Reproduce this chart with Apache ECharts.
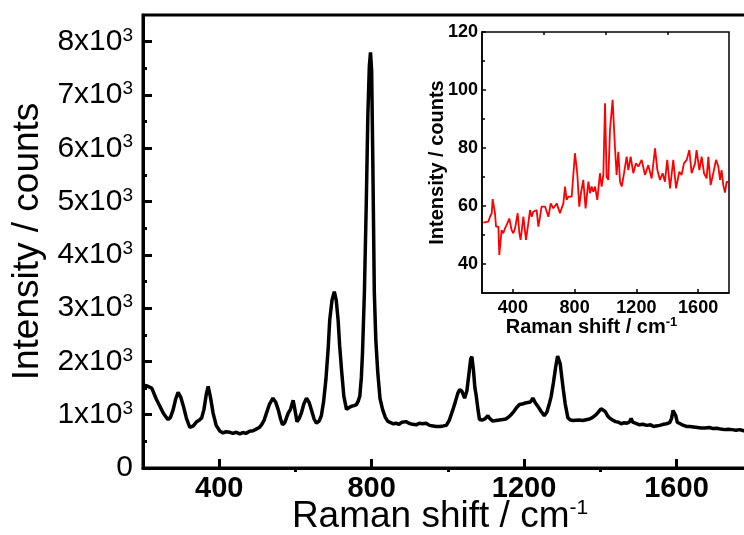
<!DOCTYPE html>
<html>
<head>
<meta charset="UTF-8">
<title>Raman spectrum</title>
<script src="https://cdn.jsdelivr.net/npm/echarts@6/dist/echarts.min.js"></script>
</head>
<body style="margin:0;background:#fff">
<div id="main" style="width:744px;height:535px;"></div>
<script>
// main spectrum (black)
var mainShift = [200,210,223,235,245,253,260,266,272,279,286,292,299,306,314,323,332,341,348,354,360,366,371,377,384,392,402,410,418,428,436,445,454,462,470,480,489,497,505,511,518,524,532,541,548,555,561,566,572,581,587,594,599,604,610,616,622,629,636,642,649,655,662,668,674,680,686,690,696,702,707,712,716,721,727,734,740,747,754,760,765,769,773,776,781,786,790,794,797,800,803,807,811,816,822,829,836,842,850,857,864,872,880,890,898,907,917,925,934,943,952,961,970,979,988,996,1004,1013,1020,1026,1031,1037,1044,1050,1055,1060,1063,1067,1071,1074,1079,1083,1090,1097,1105,1111,1118,1126,1135,1144,1152,1160,1166,1173,1180,1188,1195,1203,1210,1217,1223,1229,1236,1244,1253,1260,1266,1271,1277,1283,1288,1291,1295,1299,1303,1308,1315,1322,1329,1336,1345,1354,1363,1372,1380,1389,1396,1402,1407,1413,1419,1424,1432,1440,1448,1455,1463,1470,1477,1481,1485,1492,1503,1512,1522,1532,1540,1547,1556,1565,1574,1582,1587,1591,1594,1598,1602,1607,1615,1626,1635,1645,1655,1665,1675,1686,1696,1706,1716,1726,1736,1746,1756,1766,1776,1785];
var mainCounts = [1560,1540,1500,1290,1150,1030,960,910,950,1090,1300,1420,1330,1160,930,760,790,870,900,940,1100,1380,1530,1330,1030,800,690,660,680,670,650,670,640,665,650,690,700,730,760,810,900,1030,1200,1310,1240,1090,920,810,850,1030,1100,1270,1080,870,930,1040,1200,1310,1230,1090,920,840,880,980,1250,1660,2250,2780,3150,3310,3150,2780,2300,1840,1350,1100,1130,1160,1170,1190,1260,1350,1700,2160,3300,5000,6600,7550,7800,7450,5800,3300,2400,1800,1300,1090,950,880,850,830,840,820,860,870,840,820,810,840,830,840,800,790,780,780,790,800,900,1090,1250,1400,1470,1440,1310,1450,1750,2050,2090,1850,1500,1380,1100,910,900,920,980,920,880,890,900,910,920,960,1000,1060,1130,1190,1200,1220,1230,1240,1310,1230,1160,1070,980,1050,1200,1340,1600,1900,2100,2130,1950,1700,1470,1200,940,900,890,895,900,890,905,920,950,1000,1060,1110,1130,1060,980,940,900,870,860,830,850,840,870,930,860,840,810,820,800,810,780,790,800,820,830,850,930,1080,1100,980,860,830,810,780,780,770,760,750,750,760,740,745,730,720,725,720,710,720,700,700];

// inset spectrum (red)
var insetShift = [208,241,252,263,269,284,291,306,312,327,338,349,364,377,392,403,414,431,442,450,468,485,500,511,522,532,543,554,565,576,586,608,630,645,662,684,705,727,738,748,759,781,802,817,830,841,856,871,889,900,910,921,932,947,964,975,986,997,1007,1018,1029,1046,1061,1072,1083,1094,1105,1120,1137,1148,1163,1180,1197,1213,1234,1256,1277,1299,1321,1336,1353,1370,1385,1400,1418,1439,1457,1478,1493,1508,1526,1543,1558,1580,1590,1608,1623,1638,1655,1666,1681,1698,1716,1731,1742,1752,1763,1774,1785,1795];
var insetCounts = [54.3,54.6,56.3,57.5,62.4,57.5,52.9,52.9,43.1,51.7,50.6,52.3,54,55.7,51.7,50.6,52.3,57.5,50.6,48.3,56.3,48.3,54,58.6,56.3,58,57.5,58.6,52.9,56.3,59.8,59.8,56.3,60.9,59.2,60.9,57.5,60.9,66.7,62.1,63.2,63.2,78.2,71.3,59.8,64.4,69,59.2,68.4,64.4,66.7,64.9,66.7,62.1,71.3,66.7,70.7,95.4,70.1,69,86.2,96.6,80.5,70.7,78.7,68.4,66.7,71.3,77,72.4,77,71.3,74.7,73.6,75.9,70.7,74.1,69.5,79.9,72.4,69,71.3,68.4,75.9,66.1,75.9,66.1,71.8,70.7,74.7,75.9,79.3,71.3,74.7,79.3,72.4,77,71.3,69.5,77,67.2,71.3,75.9,73.6,69,72.4,67.2,64.6,68.4,68.1];

// tick values
var mainXTicks = [400, 800, 1200, 1600];
var mainXMinor = [600, 1000, 1400];
var mainYTicks = [0, 1000, 2000, 3000, 4000, 5000, 6000, 7000, 8000];
var mainYMinor = [500, 1500, 2500, 3500, 4500, 5500, 6500, 7500];
var insetXTicks = [400, 800, 1200, 1600];
var insetXMinor = [600, 1000, 1400];
var insetYTicks = [40, 60, 80, 100, 120];
var insetYMinor = [50, 70, 90, 110];

function zip(xs, ys) {
  return xs.map(function (x, i) { return [x, ys[i]]; });
}
function plain(v) { return String(v); }

var font = 'Liberation Sans';
var chart = echarts.init(document.getElementById('main'));

chart.setOption({
  animation: false,
  backgroundColor: '#fff',
  grid: [
    { left: 143, right: -3, top: 15, bottom: 67, outerBoundsMode: 'none', containLabel: false,
      show: true, borderColor: '#000', borderWidth: 3 },
    { left: 482, top: 32, width: 247, height: 261, outerBoundsMode: 'none', containLabel: false,
      show: true, borderColor: '#000', borderWidth: 1.5, backgroundColor: '#fff' }
  ],
  xAxis: [
    {
      type: 'value', gridIndex: 0, min: 200, max: 1785,
      splitLine: { show: false },
      axisLine: { onZero: false, lineStyle: { color: '#000', width: 3 } },
      axisTick: { inside: true, length: 9, lineStyle: { width: 3, color: '#000' }, customValues: mainXTicks },
      axisLabel: { customValues: mainXTicks, formatter: plain, fontSize: 29, fontWeight: 'bold', color: '#000', fontFamily: font, margin: 6 },
      name: '{t|Raman shift / cm}{s|-1}',
      nameLocation: 'middle', nameGap: 30, nameMoveOverlap: false,
      nameTextStyle: {
        fontFamily: font, color: '#000', padding: [0, 10, 0, 0],
        rich: {
          t: { fontSize: 37, fontFamily: font, color: '#000', lineHeight: 38 },
          s: { fontSize: 21, fontFamily: font, color: '#000', verticalAlign: 'top', lineHeight: 38 }
        }
      }
    },
    {
      type: 'value', gridIndex: 0, min: 200, max: 1785,
      splitLine: { show: false }, axisLine: { show: false }, axisLabel: { show: false },
      axisTick: { inside: true, length: 4, lineStyle: { width: 3, color: '#000' }, customValues: mainXMinor }
    },
    {
      type: 'value', gridIndex: 1, min: 200, max: 1800,
      splitLine: { show: false },
      axisLine: { onZero: false, lineStyle: { color: '#000', width: 1.5 } },
      axisTick: { inside: true, length: 4, lineStyle: { width: 1.5, color: '#000' }, customValues: insetXTicks },
      axisLabel: { customValues: insetXTicks, formatter: plain, fontSize: 18, fontWeight: 'bold', color: '#000', fontFamily: font, margin: 6 },
      name: '{t|Raman shift / cm}{s|-1}',
      nameLocation: 'middle', nameGap: 23, nameMoveOverlap: false,
      nameTextStyle: {
        fontFamily: font, color: '#000', padding: [0, 28, 0, 0],
        rich: {
          t: { fontSize: 20, fontWeight: 'bold', fontFamily: font, color: '#000', lineHeight: 22 },
          s: { fontSize: 13, fontWeight: 'bold', fontFamily: font, color: '#000', verticalAlign: 'top', lineHeight: 22 }
        }
      }
    },
    {
      type: 'value', gridIndex: 1, min: 200, max: 1800,
      splitLine: { show: false }, axisLine: { show: false }, axisLabel: { show: false },
      axisTick: { inside: true, length: 3, lineStyle: { width: 1.5, color: '#000' }, customValues: insetXMinor }
    }
  ],
  yAxis: [
    {
      type: 'value', gridIndex: 0, min: 0, max: 8500,
      splitLine: { show: false },
      axisLine: { show: true, onZero: false, lineStyle: { color: '#000', width: 3 } },
      axisTick: { show: true, inside: true, length: 9, lineStyle: { width: 3, color: '#000' }, customValues: mainYTicks },
      axisLabel: {
        customValues: mainYTicks, margin: 10, color: '#000', fontFamily: font, fontSize: 30,
        formatter: function (v) {
          if (v === 0) return '{b|0}';
          return '{b|' + (v / 1000) + 'x10}{s|3}';
        },
        rich: {
          b: { fontSize: 30, fontFamily: font, color: '#000', lineHeight: 31 },
          s: { fontSize: 19, fontFamily: font, color: '#000', verticalAlign: 'top', lineHeight: 31 }
        }
      },
      name: 'Intensity / counts',
      nameLocation: 'middle', nameGap: 97, nameRotate: 90, nameMoveOverlap: false,
      nameTextStyle: { fontSize: 37, fontFamily: font, color: '#000' }
    },
    {
      type: 'value', gridIndex: 0, min: 0, max: 8500, position: 'left',
      splitLine: { show: false }, axisLine: { show: false }, axisLabel: { show: false },
      axisTick: { show: true, inside: true, length: 4, lineStyle: { width: 3, color: '#000' }, customValues: mainYMinor }
    },
    {
      type: 'value', gridIndex: 1, min: 30, max: 120,
      splitLine: { show: false },
      axisLine: { show: true, onZero: false, lineStyle: { color: '#000', width: 1.5 } },
      axisTick: { show: true, inside: true, length: 4, lineStyle: { width: 1.5, color: '#000' }, customValues: insetYTicks },
      axisLabel: { customValues: insetYTicks, formatter: plain, fontSize: 18, fontWeight: 'bold', color: '#000', fontFamily: font, margin: 4 },
      name: 'Intensity / counts',
      nameLocation: 'middle', nameGap: 35, nameRotate: 90, nameMoveOverlap: false,
      nameTextStyle: { fontSize: 20, fontWeight: 'bold', fontFamily: font, color: '#000' }
    },
    {
      type: 'value', gridIndex: 1, min: 30, max: 120, position: 'left',
      splitLine: { show: false }, axisLine: { show: false }, axisLabel: { show: false },
      axisTick: { show: true, inside: true, length: 3, lineStyle: { width: 1.5, color: '#000' }, customValues: insetYMinor }
    }
  ],
  series: [
    {
      type: 'line', xAxisIndex: 0, yAxisIndex: 0,
      data: zip(mainShift, mainCounts),
      showSymbol: false, smooth: false,
      lineStyle: { color: '#000', width: 3.5 }
    },
    {
      type: 'line', xAxisIndex: 2, yAxisIndex: 2,
      data: zip(insetShift, insetCounts),
      showSymbol: false,
      lineStyle: { color: '#ff0000', width: 1.8 }
    }
  ]
});
</script>
</body>
</html>
